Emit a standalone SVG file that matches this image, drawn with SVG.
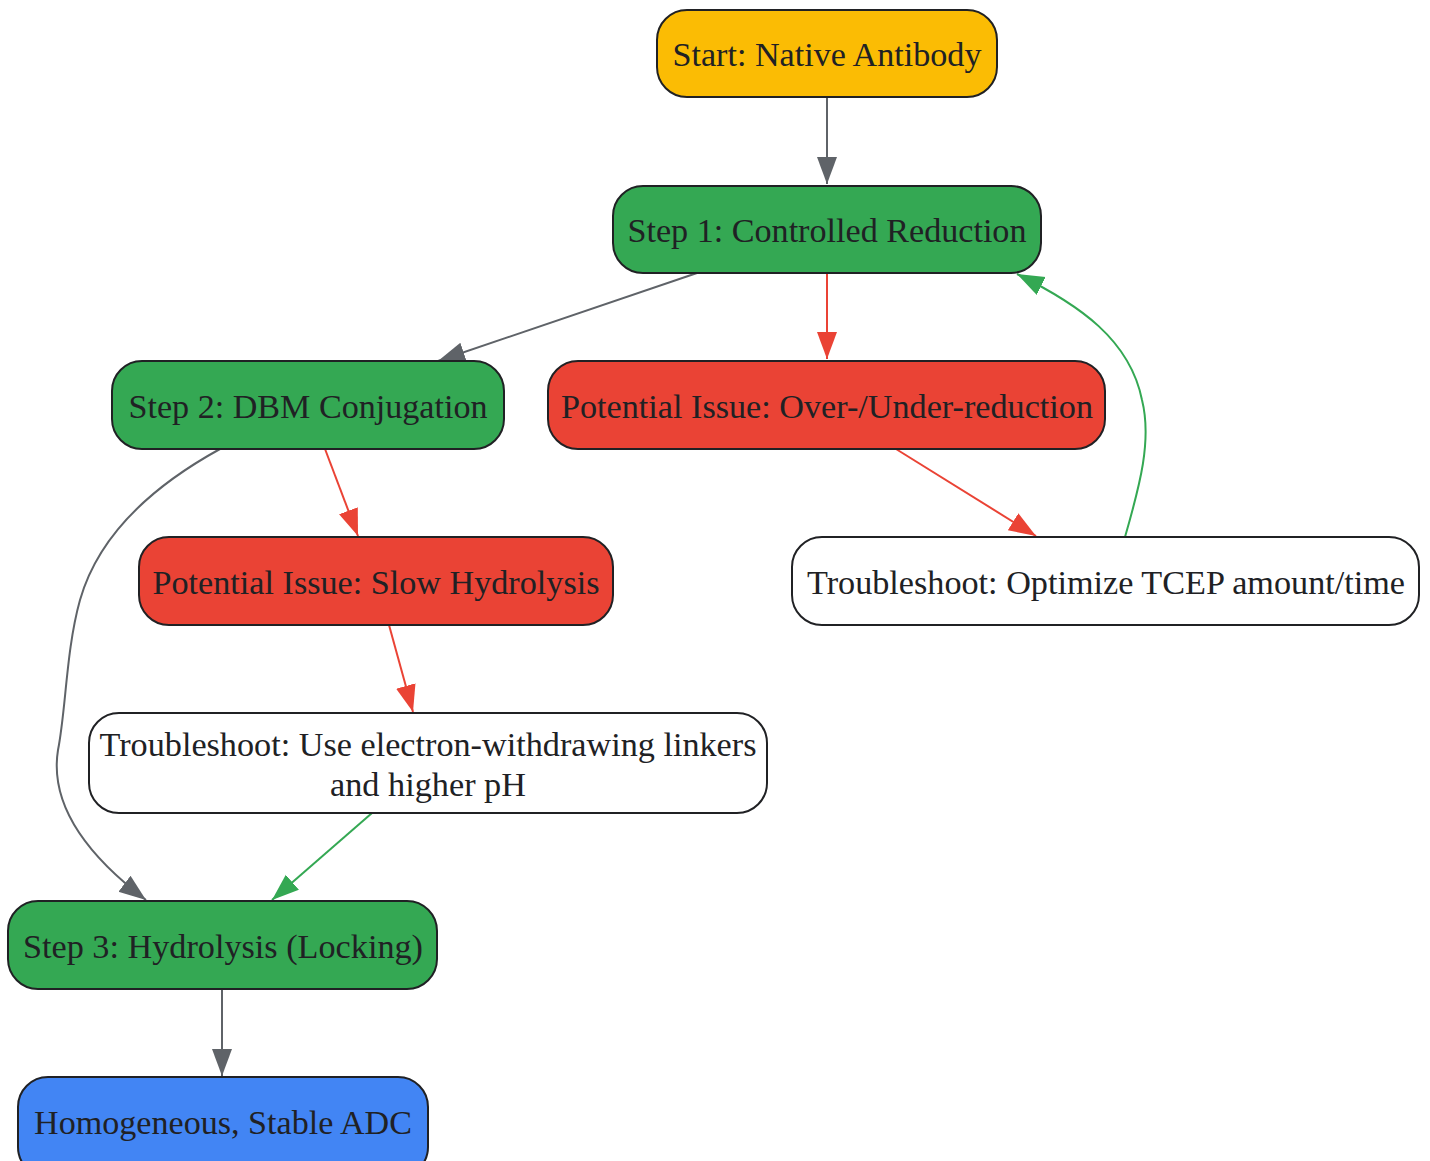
<svg xmlns="http://www.w3.org/2000/svg" width="1430" height="1161" viewBox="0 0 1430 1161">
<style>
.n{stroke:#202124;stroke-width:2}
.t{font-family:"Liberation Serif","Times New Roman",serif;font-size:33px;fill:#202124;text-anchor:middle}
.e{fill:none;stroke-width:2}
.g{stroke:#5F6368}
.r{stroke:#EA4335}
.gr{stroke:#34A853}
</style>
<defs>
<marker id="ag" markerUnits="userSpaceOnUse" markerWidth="28" markerHeight="22" refX="27" refY="10" orient="auto"><path d="M0,0 L27,10 L0,20 z" fill="#5F6368"/></marker>
<marker id="ar" markerUnits="userSpaceOnUse" markerWidth="28" markerHeight="22" refX="27" refY="10" orient="auto"><path d="M0,0 L27,10 L0,20 z" fill="#EA4335"/></marker>
<marker id="agr" markerUnits="userSpaceOnUse" markerWidth="28" markerHeight="22" refX="27" refY="10" orient="auto"><path d="M0,0 L27,10 L0,20 z" fill="#34A853"/></marker>
</defs>
<rect width="1430" height="1161" fill="#ffffff"/>
<g id="connectors">
<path class="e g" d="M827,97 L827,184" marker-end="url(#ag)"/>
<path class="e g" d="M697,273 L438,361" marker-end="url(#ag)"/>
<path class="e r" d="M827,273 L827,359" marker-end="url(#ar)"/>
<path class="e r" d="M896,449 L1036,536" marker-end="url(#ar)"/>
<path class="e gr" d="M1125,537 C1140,485 1152,440 1142,400 C1130,340 1080,305 1017,274" marker-end="url(#agr)"/>
<path class="e r" d="M325,449 L358,536" marker-end="url(#ar)"/>
<path class="e r" d="M389,625 L413,712" marker-end="url(#ar)"/>
<path class="e gr" d="M372,813 L272,900" marker-end="url(#agr)"/>
<path class="e g" d="M220,449 C160,482 100,530 80,600 C66,650 66,710 58,750 C50,800 80,850 146,900" marker-end="url(#ag)"/>
<path class="e g" d="M222,989 L222,1076" marker-end="url(#ag)"/>
</g>
<g id="start">
<rect class="n" x="657" y="10" width="340" height="87" rx="30" fill="#FBBC04"/>
<text class="t" x="827" y="66" textLength="309" lengthAdjust="spacingAndGlyphs">Start: Native Antibody</text>
</g>
<g id="step1">
<rect class="n" x="613" y="186" width="428" height="87" rx="30" fill="#34A853"/>
<text class="t" x="827" y="242" textLength="399" lengthAdjust="spacingAndGlyphs">Step 1: Controlled Reduction</text>
</g>
<g id="step2">
<rect class="n" x="112" y="361" width="392" height="88" rx="30" fill="#34A853"/>
<text class="t" x="308" y="418" textLength="359" lengthAdjust="spacingAndGlyphs">Step 2: DBM Conjugation</text>
</g>
<g id="issue1">
<rect class="n" x="548" y="361" width="557" height="88" rx="30" fill="#EA4335"/>
<text class="t" x="827" y="418" textLength="532" lengthAdjust="spacingAndGlyphs">Potential Issue: Over-/Under-reduction</text>
</g>
<g id="trouble1">
<rect class="n" x="792" y="537" width="627" height="88" rx="30" fill="#ffffff"/>
<text class="t" x="1106" y="594" textLength="598" lengthAdjust="spacingAndGlyphs">Troubleshoot: Optimize TCEP amount/time</text>
</g>
<g id="issue2">
<rect class="n" x="139" y="537" width="474" height="88" rx="30" fill="#EA4335"/>
<text class="t" x="376" y="594" textLength="447" lengthAdjust="spacingAndGlyphs">Potential Issue: Slow Hydrolysis</text>
</g>
<g id="trouble2">
<rect class="n" x="89" y="713" width="678" height="100" rx="30" fill="#ffffff"/>
<text class="t" x="428" y="756" textLength="657" lengthAdjust="spacingAndGlyphs">Troubleshoot: Use electron-withdrawing linkers</text>
<text class="t" x="428" y="796" textLength="196" lengthAdjust="spacingAndGlyphs">and higher pH</text>
</g>
<g id="step3">
<rect class="n" x="8" y="901" width="429" height="88" rx="30" fill="#34A853"/>
<text class="t" x="223" y="958" textLength="400" lengthAdjust="spacingAndGlyphs">Step 3: Hydrolysis (Locking)</text>
</g>
<g id="final">
<rect class="n" x="18" y="1077" width="410" height="100" rx="30" fill="#4285F4"/>
<text class="t" x="223" y="1134" textLength="378" lengthAdjust="spacingAndGlyphs">Homogeneous, Stable ADC</text>
</g>
</svg>
